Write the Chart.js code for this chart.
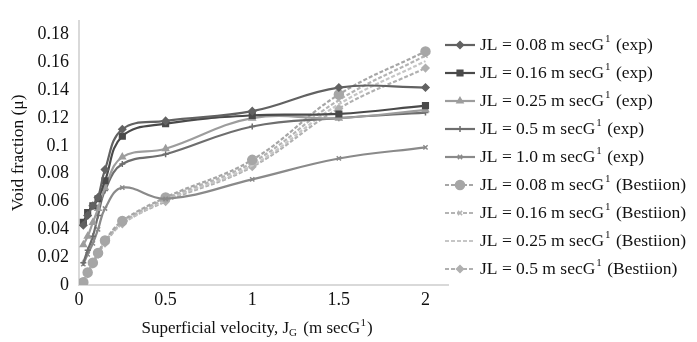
<!DOCTYPE html>
<html>
<head>
<meta charset="utf-8">
<script src="https://cdn.jsdelivr.net/npm/chart.js@4/dist/chart.umd.min.js"></script>
<style>
  body { margin: 0; background: #fff; }
  #wrap { width: 697px; height: 342px; position: relative; }
</style>
</head>
<body>
<div id="wrap"><canvas id="voidChart"></canvas></div>
<script>
// superficial gas velocity (m/s)
var xVals = [0.025, 0.05, 0.08, 0.11, 0.15, 0.25, 0.5, 1, 1.5, 2];

// experimental
var exp008 = [0.043, 0.050, 0.057, 0.063, 0.083, 0.112, 0.118, 0.125, 0.142, 0.142];
var exp016 = [0.045, 0.052, 0.057, 0.062, 0.075, 0.107, 0.116, 0.122, 0.123, 0.129];
var exp025 = [0.029, 0.035, 0.045, 0.055, 0.070, 0.092, 0.098, 0.120, 0.120, 0.126];
var exp05  = [0.016, 0.025, 0.035, 0.050, 0.068, 0.087, 0.094, 0.114, 0.120, 0.124];
var exp10  = [0.015, 0.022, 0.030, 0.040, 0.055, 0.070, 0.062, 0.076, 0.091, 0.099];
// Bestiion correlation
var bes008 = [0.002, 0.009, 0.016, 0.023, 0.032, 0.046, 0.063, 0.090, 0.137, 0.168];
var bes016 = [0.003, 0.009, 0.016, 0.023, 0.031, 0.045, 0.062, 0.088, 0.133, 0.165];
var bes025 = [0.003, 0.009, 0.015, 0.022, 0.031, 0.044, 0.061, 0.086, 0.130, 0.161];
var bes05  = [0.002, 0.008, 0.015, 0.022, 0.030, 0.044, 0.060, 0.085, 0.127, 0.156];

var xTicks = [0, 0.5, 1, 1.5, 2];
var yTicks = [0, 0.02, 0.04, 0.06, 0.08, 0.1, 0.12, 0.14, 0.16, 0.18];

var labels = [
  ["JL = 0.08 m secG", "1", " (exp)"],
  ["JL = 0.16 m secG", "1", " (exp)"],
  ["JL = 0.25 m secG", "1", " (exp)"],
  ["JL = 0.5 m secG", "1", " (exp)"],
  ["JL = 1.0 m secG", "1", " (exp)"],
  ["JL = 0.08 m secG", "1", " (Bestiion)"],
  ["JL = 0.16 m secG", "1", " (Bestiion)"],
  ["JL = 0.25 m secG", "1", " (Bestiion)"],
  ["JL = 0.5 m secG", "1", " (Bestiion)"]
];

function pts(ys) {
  return ys.map(function (y, i) { return { x: xVals[i], y: y }; });
}

var SERIF = "'Liberation Serif', 'Times New Roman', serif";
var FS = 17.5;

function ds(lbl, ys, color, style, r, dash) {
  return {
    label: lbl.join(''),
    data: pts(ys),
    borderColor: color,
    backgroundColor: color,
    borderWidth: 2.2,
    borderDash: dash || [],
    pointStyle: style,
    pointRadius: r,
    pointBorderWidth: 1.5,
    tension: 0.4,
    fill: false
  };
}

var datasets = [
  ds(labels[0], exp008, '#626262', 'rectRot', 3.5),
  ds(labels[1], exp016, '#4a4a4a', 'rect', 4),
  ds(labels[2], exp025, '#9d9d9d', 'triangle', 3.5),
  ds(labels[3], exp05,  '#6e6e6e', 'cross', 3),
  ds(labels[4], exp10,  '#8a8a8a', 'crossRot', 3),
  ds(labels[5], bes008, '#a6a6a6', 'circle', 4.5, [4, 2]),
  ds(labels[6], bes016, '#b4b4b4', 'crossRot', 3, [4, 2]),
  ds(labels[7], bes025, '#c6c6c6', 'circle', 0, [4, 2]),
  ds(labels[8], bes05,  '#b0b0b0', 'rectRot', 3.5, [4, 2])
];

function drawSupText(ctx, parts, x, y) {
  // parts: [base, superscript, rest]
  ctx.font = FS + "px " + SERIF;
  ctx.fillText(parts[0], x, y);
  x += ctx.measureText(parts[0]).width;
  ctx.font = "11px " + SERIF;
  ctx.fillText(parts[1], x + 1, y - 6);
  x += ctx.measureText(parts[1]).width + 2;
  ctx.font = FS + "px " + SERIF;
  ctx.fillText(parts[2], x, y);
}

var customText = {
  id: 'customText',
  afterDraw: function (chart) {
    var ctx = chart.ctx;
    ctx.save();
    ctx.fillStyle = '#111';
    ctx.textBaseline = 'middle';
    ctx.textAlign = 'left';
    // legend
    var y0 = 45, step = 28;
    chart.data.datasets.forEach(function (d, i) {
      var y = y0 + i * step;
      ctx.save();
      ctx.strokeStyle = d.borderColor;
      ctx.lineWidth = 2.2;
      ctx.setLineDash(d.borderDash);
      ctx.beginPath();
      ctx.moveTo(445, y);
      ctx.lineTo(475, y);
      ctx.stroke();
      ctx.setLineDash([]);
      ctx.fillStyle = d.backgroundColor;
      ctx.lineWidth = 1.5;
      if (d.pointRadius > 0) {
        Chart.helpers.drawPoint(ctx, { pointStyle: d.pointStyle, radius: d.pointRadius, rotation: 0, borderWidth: 1.5 }, 460, y);
      }
      ctx.restore();
      drawSupText(ctx, labels[i], 480, y);
    });
    // x axis title with sub/superscripts
    var a = "Superficial velocity, J", b = "G", c = " (m secG", d2 = "1", e = ")";
    var big = "17px " + SERIF, small = "11px " + SERIF;
    ctx.font = big;
    var wa = ctx.measureText(a).width, wc = ctx.measureText(c).width, we = ctx.measureText(e).width;
    ctx.font = small;
    var wb = ctx.measureText(b).width, wd = ctx.measureText(d2).width;
    var total = wa + wb + 2 + wc + wd + 1 + we;
    var x = 257 - total / 2, ty = 329;
    ctx.font = big;
    ctx.fillText(a, x, ty); x += wa;
    ctx.font = small;
    ctx.fillText(b, x, ty + 4); x += wb + 2;
    ctx.font = big;
    ctx.fillText(c, x, ty); x += wc;
    ctx.font = small;
    ctx.fillText(d2, x, ty - 6); x += wd + 1;
    ctx.font = big;
    ctx.fillText(e, x, ty);
    ctx.restore();
  }
};

new Chart(document.getElementById('voidChart').getContext('2d'), {
  type: 'line',
  data: { datasets: datasets },
  plugins: [customText],
  options: {
    responsive: true,
    maintainAspectRatio: false,
    animation: false,
    layout: { padding: { top: 0, right: 249, bottom: 0, left: 0 } },
    plugins: { legend: { display: false }, tooltip: { enabled: false } },
    scales: {
      x: {
        type: 'linear',
        min: 0,
        max: 2.13,
        afterBuildTicks: function (s) { s.ticks = xTicks.map(function (v) { return { value: v }; }); },
        afterFit: function (s) { s.height = 57; },
        grid: { display: true, color: 'rgba(0,0,0,0)', drawTicks: false },
        border: { display: true, color: '#d9d9d9', width: 2 },
        ticks: {
          padding: 4,
          color: '#111',
          font: { family: SERIF, size: 18 },
          maxRotation: 0,
          callback: function (v) { return String(+v.toFixed(2)); }
        }
      },
      y: {
        min: 0,
        max: 0.19,
        afterBuildTicks: function (s) { s.ticks = yTicks.map(function (v) { return { value: v }; }); },
        afterFit: function (s) { s.width = 79; },
        grid: { display: true, color: 'rgba(0,0,0,0)', drawTicks: false },
        border: { display: true, color: '#d9d9d9', width: 2 },
        title: {
          display: true,
          text: 'Void fraction (μ)',
          color: '#111',
          font: { family: SERIF, size: 17.5 },
          padding: { top: 8, bottom: 4 }
        },
        ticks: {
          padding: 10,
          color: '#111',
          font: { family: SERIF, size: 18 },
          callback: function (v) { return String(+v.toFixed(2)); }
        }
      }
    }
  }
});
</script>
</body>
</html>
